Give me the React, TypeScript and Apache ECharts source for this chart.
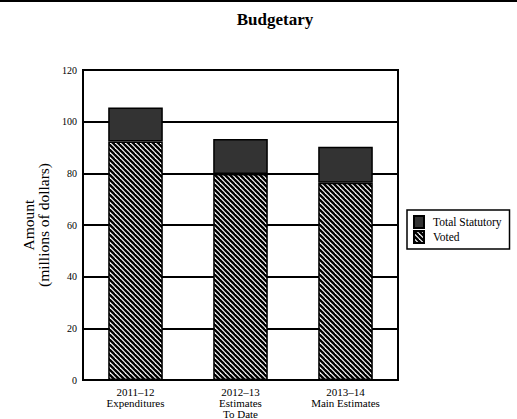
import React, { useEffect, useRef } from "react";
import * as echarts from "echarts";

const categories = ["2011–12\nExpenditures", "2012–13\nEstimates\nTo Date", "2013–14\nMain Estimates"];
const votedValues = [92.3, 79.7, 76.4];
const statutoryValues = [13.2, 13.6, 13.9];
const seriesNames = ["Total Statutory", "Voted"];
const yTicks = { min: 0, max: 120, interval: 20 };

const FONT = "'Liberation Serif', 'DejaVu Serif', serif";

function makeStripe(): HTMLCanvasElement {
  const c = document.createElement("canvas");
  const p = 5;
  c.width = p;
  c.height = p;
  const ctx = c.getContext("2d")!;
  ctx.fillStyle = "#fff";
  ctx.fillRect(0, 0, p, p);
  ctx.strokeStyle = "#000";
  ctx.lineWidth = 2.4;
  for (let k = -2; k <= 2; k++) {
    ctx.beginPath();
    ctx.moveTo(-p + k * p, -p);
    ctx.lineTo(2 * p + k * p, 2 * p);
    ctx.stroke();
  }
  return c;
}

export default function App() {
  const ref = useRef<HTMLDivElement>(null);
  useEffect(() => {
    document.body.style.margin = "0";
    const chart = echarts.init(ref.current!, undefined, { renderer: "svg" });
    const stripe = makeStripe();
    chart.setOption({
      animation: false,
      backgroundColor: "#fff",
      title: {
        text: "Budgetary",
        left: 270,
        textAlign: "center",
        top: 6,
        textStyle: { fontFamily: FONT, fontWeight: "bold", fontSize: 17, color: "#000" },
      },
      graphic: [
        { type: "line", shape: { x1: 0, y1: 1, x2: 517, y2: 1 }, style: { stroke: "#000", lineWidth: 2 } },
      ],
      legend: {
        data: seriesNames,
        orient: "vertical",
        left: 407,
        top: 210,
        icon: "rect",
        itemWidth: 10,
        itemHeight: 12,
        itemGap: 1,
        padding: [5, 8, 5, 6],
        borderColor: "#000",
        borderWidth: 1.5,
        borderRadius: 0,
        textStyle: { fontFamily: FONT, fontSize: 11.5, color: "#000", padding: [0, 0, 0, 4] },
      },
      grid: {
        left: 83,
        right: 119,
        top: 70,
        bottom: 35,
        show: true,
        borderColor: "#000",
        borderWidth: 2,
        backgroundColor: "transparent",
      },
      xAxis: {
        type: "category",
        data: categories,
        axisLine: { lineStyle: { color: "#000", width: 2 } },
        axisTick: { show: false },
        axisLabel: {
          fontFamily: FONT,
          fontSize: 11,
          color: "#000",
          lineHeight: 11,
          margin: 6,
          interval: 0,
        },
      },
      yAxis: {
        type: "value",
        min: yTicks.min,
        max: yTicks.max,
        interval: yTicks.interval,
        name: "Amount\n(millions of dollars)",
        nameLocation: "middle",
        nameGap: 28,
        nameTextStyle: { fontFamily: FONT, fontSize: 15.5, color: "#000", lineHeight: 15 },
        axisLine: { show: true, lineStyle: { color: "#000", width: 2 } },
        axisTick: { show: false },
        axisLabel: { fontFamily: FONT, fontSize: 10, color: "#000", margin: 6 },
        splitLine: { show: true, lineStyle: { color: "#000", width: 2 } },
      },
      series: [
        {
          name: "Voted",
          type: "bar",
          stack: "total",
          barWidth: "52%",
          data: votedValues,
          itemStyle: {
            color: { image: stripe, repeat: "repeat" },
            borderColor: "#000",
            borderWidth: 1.5,
          },
        },
        {
          name: "Total Statutory",
          type: "bar",
          stack: "total",
          barWidth: "52%",
          data: statutoryValues,
          itemStyle: { color: "#333", borderColor: "#000", borderWidth: 1.5 },
        },
      ],
    });
    return () => chart.dispose();
  }, []);
  return <div ref={ref} style={{ width: 517, height: 419 }} />;
}
